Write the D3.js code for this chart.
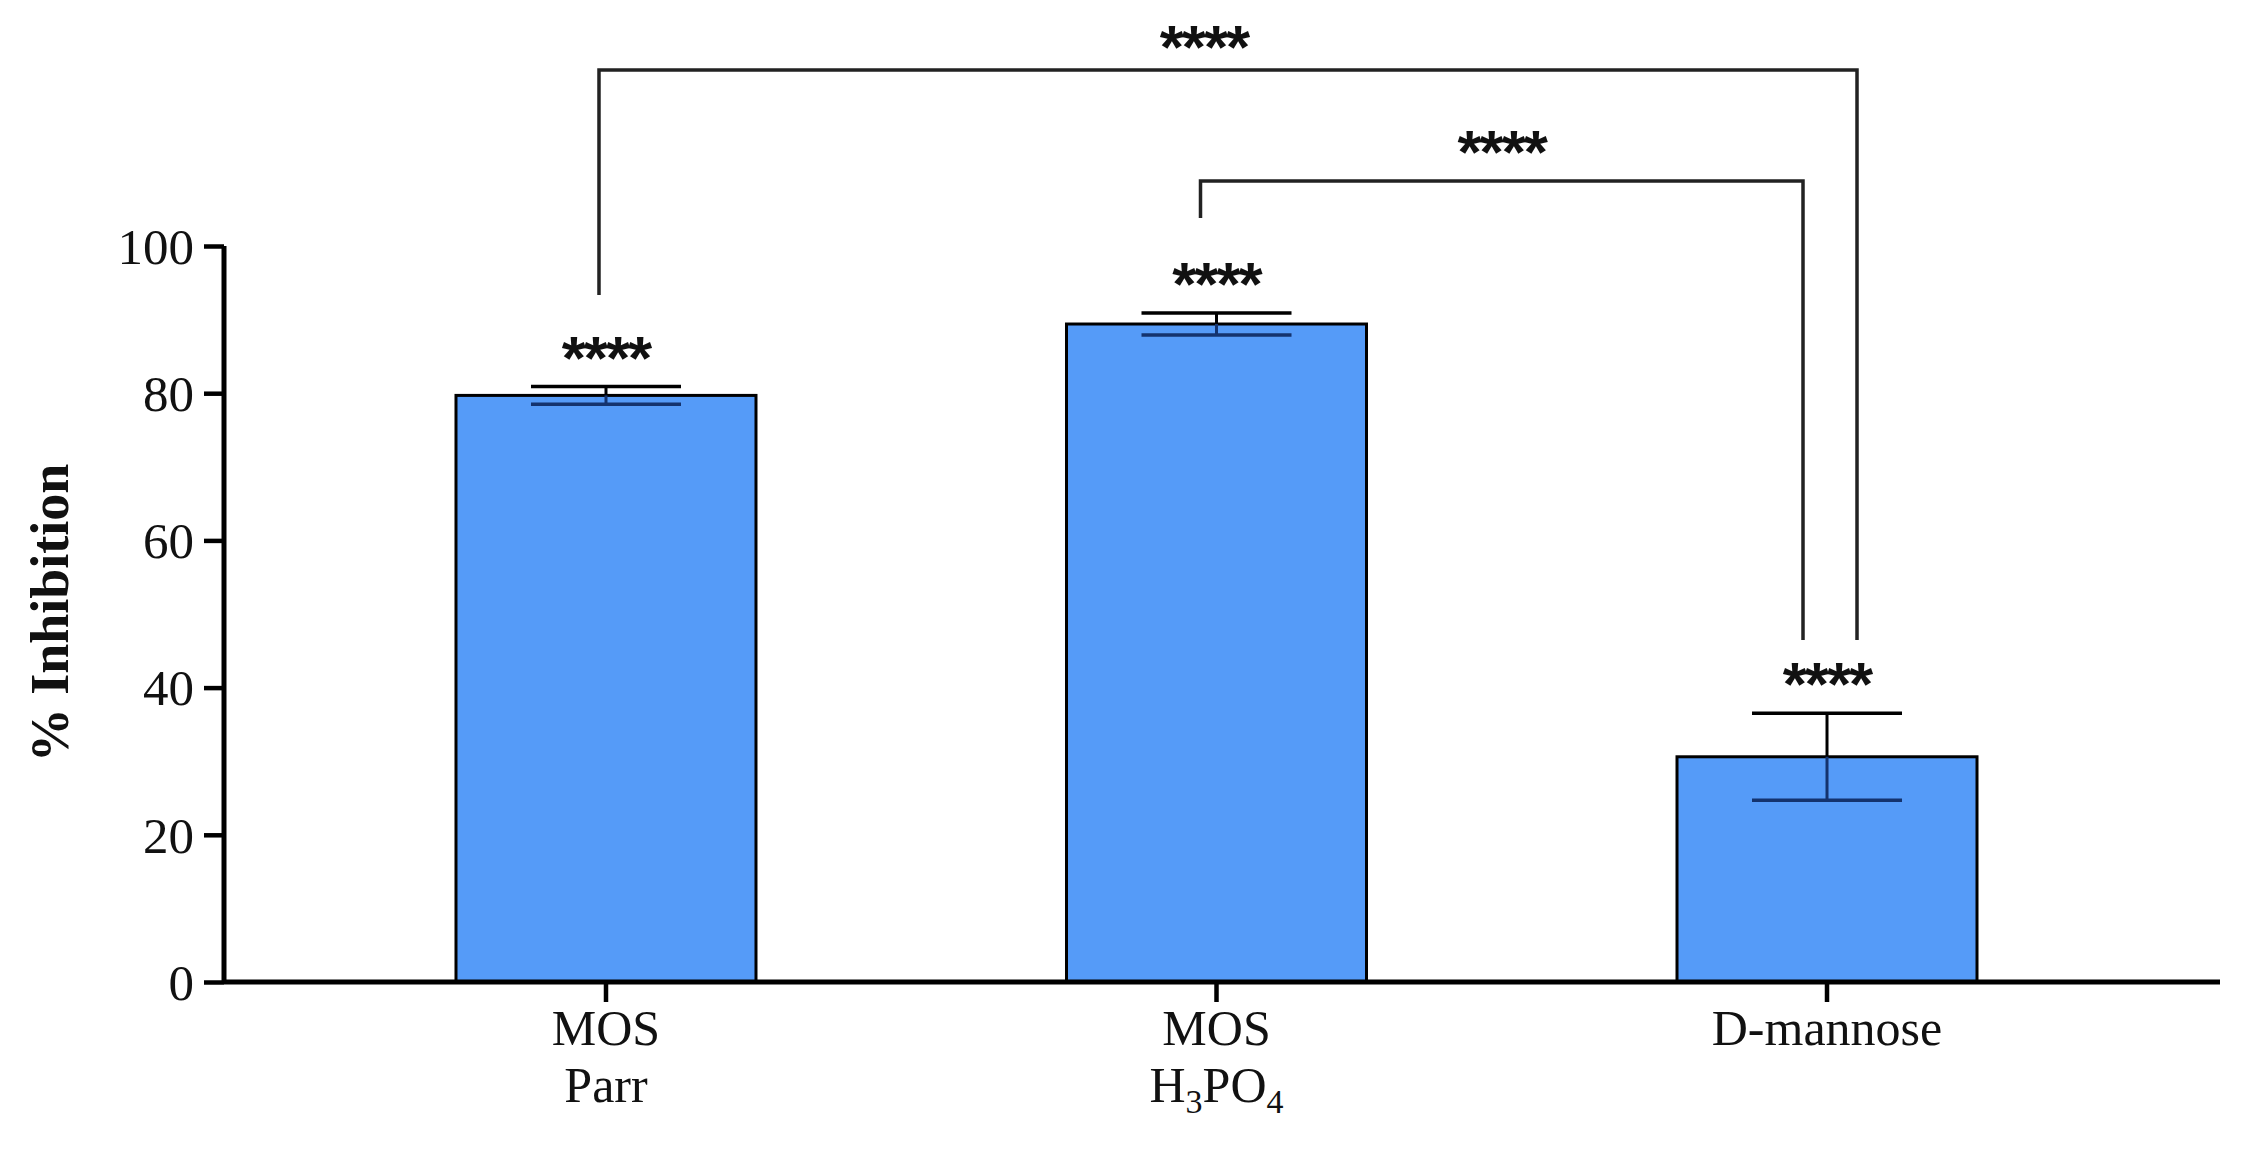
<!DOCTYPE html>
<html>
<head>
<meta charset="utf-8">
<script src="https://cdn.jsdelivr.net/npm/d3@7"></script>
<style>
  html, body { margin: 0; padding: 0; background: #ffffff; }
  svg { display: block; }
</style>
</head>
<body>
<svg id="chart" width="2248" height="1150"></svg>
<script>
// ---- data ----
const categories = ["MOS Parr", "MOS H3PO4", "D-mannose"];
const labelLine1 = ["MOS", "MOS", "D-mannose"];
const labelLine2 = ["Parr", "H3PO4", ""];
const means = [79.7, 89.4, 30.6];
const sds = [1.2, 1.5, 5.9];
const barStars = ["****", "****", "****"];
const yTicks = [0, 20, 40, 60, 80, 100];
const comparisons = [
  { from: 0, to: 2, level: 1, label: "****" },
  { from: 1, to: 2, level: 0, label: "****" }
];

const svg = d3.select("#chart");
const serif = "'Liberation Serif', 'Times New Roman', serif";
const sans = "'Liberation Sans', Arial, sans-serif";

const x = d3.scaleBand().domain(categories).range([224, 2209])
  .paddingInner(0.5086).paddingOuter(0.38);
const y = d3.scaleLinear().domain([0, 100]).range([982, 246]);

const barColor = "#559bf8";
const starSize = 62;

// bars
svg.append("g").selectAll("rect").data(categories).join("rect")
  .attr("x", d => x(d))
  .attr("y", (d, i) => y(means[i]))
  .attr("width", x.bandwidth())
  .attr("height", (d, i) => y(0) - y(means[i]))
  .attr("fill", barColor)
  .attr("stroke", "#000")
  .attr("stroke-width", 3);

// error bars
const eb = svg.append("g");
categories.forEach((c, i) => {
  const cx = x(c) + x.bandwidth() / 2;
  const half = x.bandwidth() / 4;
  const top = y(means[i] + sds[i]);
  const mid = y(means[i]);
  const bot = y(means[i] - sds[i]);
  eb.append("line").attr("x1", cx).attr("x2", cx).attr("y1", top).attr("y2", mid)
    .attr("stroke", "#000").attr("stroke-width", 3);
  eb.append("line").attr("x1", cx - half).attr("x2", cx + half).attr("y1", top).attr("y2", top)
    .attr("stroke", "#000").attr("stroke-width", 3.5);
  eb.append("line").attr("x1", cx).attr("x2", cx).attr("y1", mid).attr("y2", bot)
    .attr("stroke", "#14336e").attr("stroke-width", 3);
  eb.append("line").attr("x1", cx - half).attr("x2", cx + half).attr("y1", bot).attr("y2", bot)
    .attr("stroke", "#14336e").attr("stroke-width", 3.5);
  // stars above bar
  svg.append("text")
    .attr("x", cx)
    .attr("y", top - 8)
    .attr("text-anchor", "middle")
    .attr("font-family", sans)
    .attr("font-weight", "bold")
    .attr("font-size", starSize)
    .attr("fill", "#111")
    .attr("letter-spacing", -2)
    .text(barStars[i]);
});

// comparison brackets
const bracketTopY = [181, 70];
const bracketDropLeft = [218, 295];
const bracketOffsetL = [-16, -7];
const bracketOffsetR = [-24, 30];
const bracketBottomR = 640;
comparisons.forEach(cmp => {
  const lvl = cmp.level;
  const x1 = x(categories[cmp.from]) + x.bandwidth() / 2 + bracketOffsetL[lvl];
  const x2 = x(categories[cmp.to]) + x.bandwidth() / 2 + bracketOffsetR[lvl];
  const yt = bracketTopY[lvl];
  svg.append("path")
    .attr("d", `M${x1},${bracketDropLeft[lvl]} V${yt} H${x2} V${bracketBottomR}`)
    .attr("fill", "none")
    .attr("stroke", "#222")
    .attr("stroke-width", 3.5);
  svg.append("text")
    .attr("x", (x1 + x2) / 2 + (lvl === 0 ? 0 : -24))
    .attr("y", yt - (lvl === 0 ? 8 : 2))
    .attr("text-anchor", "middle")
    .attr("font-family", sans)
    .attr("font-weight", "bold")
    .attr("font-size", starSize)
    .attr("fill", "#111")
    .attr("letter-spacing", -2)
    .text(cmp.label);
});

// y axis
const yAxis = svg.append("g").attr("transform", "translate(224,0)")
  .call(d3.axisLeft(y).tickValues(yTicks).tickSize(20).tickPadding(10));
yAxis.select(".domain").attr("stroke", "#000").attr("stroke-width", 5)
  .attr("d", `M0,${y(100)}V${y(0)}`);
yAxis.selectAll(".tick line").attr("stroke", "#000").attr("stroke-width", 4.5);
yAxis.selectAll(".tick text").attr("font-family", serif).attr("font-size", 51)
  .attr("fill", "#111").attr("dy", "0.34em");

// x axis
const xAxis = svg.append("g").attr("transform", "translate(0,982)")
  .call(d3.axisBottom(x).tickSize(20).tickFormat(""));
xAxis.select(".domain").attr("stroke", "#000").attr("stroke-width", 5)
  .attr("d", `M224,0H2220`);
xAxis.selectAll(".tick line").attr("stroke", "#000").attr("stroke-width", 4.5);

// x labels
categories.forEach((c, i) => {
  const cx = x(c) + x.bandwidth() / 2;
  svg.append("text").attr("x", cx).attr("y", 1045)
    .attr("text-anchor", "middle").attr("font-family", serif).attr("font-size", 50)
    .attr("fill", "#111").text(labelLine1[i]);
  if (labelLine2[i]) {
    const t = svg.append("text").attr("x", cx).attr("y", 1102)
      .attr("text-anchor", "middle").attr("font-family", serif).attr("font-size", 50)
      .attr("fill", "#111");
    if (labelLine2[i] === "H3PO4") {
      t.append("tspan").text("H");
      t.append("tspan").attr("font-size", 34).attr("dy", 11).text("3");
      t.append("tspan").attr("dy", -11).text("PO");
      t.append("tspan").attr("font-size", 34).attr("dy", 11).text("4");
    } else {
      t.text(labelLine2[i]);
    }
  }
});

// y label
svg.append("text")
  .attr("transform", "translate(68,613) rotate(-90)")
  .attr("text-anchor", "middle")
  .attr("font-family", serif)
  .attr("font-weight", "bold")
  .attr("font-size", 54)
  .attr("fill", "#111")
  .text("% Inhibition");
</script>
</body>
</html>
